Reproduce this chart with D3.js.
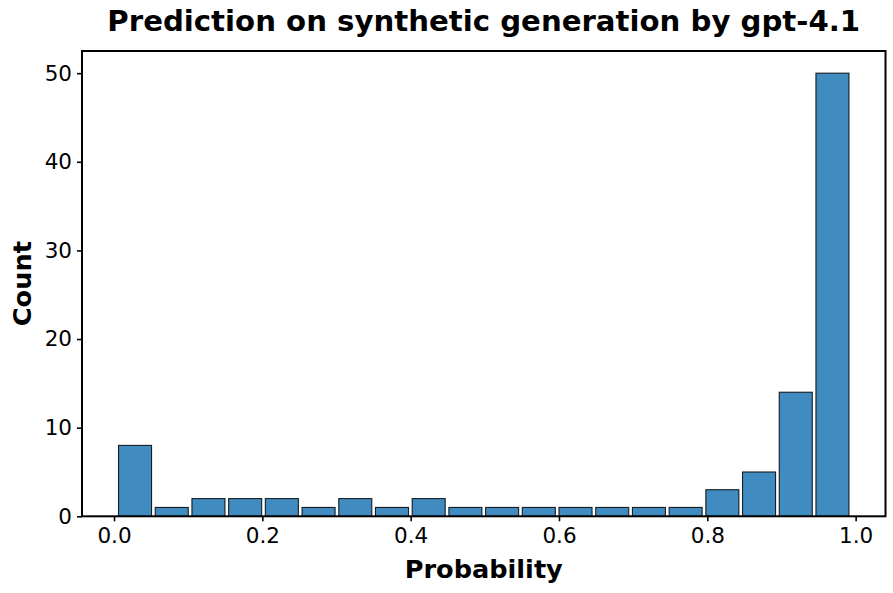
<!DOCTYPE html>
<html>
<head>
<meta charset="utf-8">
<script src="https://cdn.jsdelivr.net/npm/d3@7"></script>
<style>
  html, body { margin: 0; padding: 0; background: #fff; }
  svg { display: block; font-family: "DejaVu Sans", sans-serif; }
</style>
</head>
<body>
<svg id="chart" width="893" height="593"></svg>
<script>
// ---- data ----
const title = "Prediction on synthetic generation by gpt-4.1";
const xLabel = "Probability";
const yLabel = "Count";
const binMin = 0.0036;           // lowest bin edge
const binMax = 0.9935;           // highest bin edge
const counts = [8, 1, 2, 2, 2, 1, 2, 1, 2, 1, 1, 1, 1, 1, 1, 1, 3, 5, 14, 50];
const xTicks = [0.0, 0.2, 0.4, 0.6, 0.8, 1.0];
const yTicks = [0, 10, 20, 30, 40, 50];

// ---- layout ----
const W = 893, H = 593;
const m = { left: 82, right: 893 - 885.5, top: 51, bottom: 593 - 516.3 };
const iw = W - m.left - m.right, ih = H - m.top - m.bottom;
const rwidth = 0.9;

const nb = counts.length;
const bw = (binMax - binMin) / nb;
const bins = counts.map((c, i) => {
  const x0 = binMin + i * bw;
  return { x0: x0 + bw * (1 - rwidth) / 2, x1: x0 + bw * (1 + rwidth) / 2, c };
});
const dLo = d3.min(bins, d => d.x0), dHi = d3.max(bins, d => d.x1);
const pad = (dHi - dLo) * 0.05;
const x = d3.scaleLinear().domain([dLo - pad, dHi + pad]).range([0, iw]);
const yMax = d3.max(counts) * 1.05;
const y = d3.scaleLinear().domain([0, yMax]).range([ih, 0]);

const svg = d3.select("#chart");
const g = svg.append("g").attr("transform", `translate(${m.left},${m.top})`);

g.selectAll("rect.bar").data(bins).enter().append("rect")
  .attr("class", "bar")
  .attr("x", d => x(d.x0))
  .attr("width", d => x(d.x1) - x(d.x0))
  .attr("y", d => y(d.c))
  .attr("height", d => y(0) - y(d.c))
  .attr("fill", "#1f77b4").attr("fill-opacity", 0.85)
  .attr("stroke", "#000").attr("stroke-opacity", 0.85)
  .attr("stroke-width", 1.1);

// axes
const xAxis = d3.axisBottom(x).tickValues(xTicks).tickFormat(d3.format(".1f")).tickSize(5).tickPadding(6);
const yAxis = d3.axisLeft(y).tickValues(yTicks).tickFormat(d3.format("d")).tickSize(5).tickPadding(5);

const gx = g.append("g").attr("transform", `translate(0,${ih})`).call(xAxis);
const gy = g.append("g").call(yAxis);
[gx, gy].forEach(a => {
  a.select(".domain").remove();
  a.selectAll(".tick line").attr("stroke", "#000").attr("stroke-width", 1.6);
  a.selectAll(".tick text").attr("fill", "#000").attr("font-size", 21.5)
    .attr("font-family", "DejaVu Sans, sans-serif");
});

// frame
g.append("rect").attr("x", 0).attr("y", 0).attr("width", iw).attr("height", ih)
  .attr("fill", "none").attr("stroke", "#000").attr("stroke-width", 2);

// labels
svg.append("text").attr("x", m.left + iw / 2).attr("y", 31)
  .attr("text-anchor", "middle").attr("font-weight", "bold").attr("font-size", 29.2)
  .text(title);
svg.append("text").attr("x", m.left + iw / 2).attr("y", 578)
  .attr("text-anchor", "middle").attr("font-weight", "bold").attr("font-size", 25.6)
  .text(xLabel);
svg.append("text").attr("transform", `translate(31,${m.top + ih / 2}) rotate(-90)`)
  .attr("text-anchor", "middle").attr("font-weight", "bold").attr("font-size", 25.6)
  .text(yLabel);
</script>
</body>
</html>
